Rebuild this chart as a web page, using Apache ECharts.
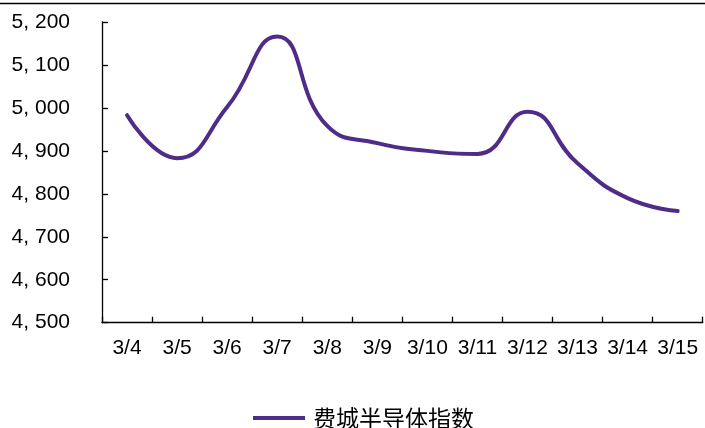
<!DOCTYPE html>
<html>
<head>
<meta charset="utf-8">
<script src="https://cdn.jsdelivr.net/npm/echarts@6/dist/echarts.min.js"></script>
<style>
  html, body { margin: 0; padding: 0; background: #fff; }
  #chart { width: 705px; height: 428px; }
</style>
</head>
<body>
<div id="chart"></div>
<script>
// Trading days (March)
const categories = ['3/4', '3/5', '3/6', '3/7', '3/8', '3/9', '3/10', '3/11', '3/12', '3/13', '3/14', '3/15'];
// Philadelphia Semiconductor Index closes
const soxValues = [4983, 4883, 5002, 5166, 4958, 4918, 4900, 4893, 4991, 4871, 4790, 4760];
// Value-axis tick labels, from 4,500 up to 5,200
const yTickValues = [4500, 4600, 4700, 4800, 4900, 5000, 5100, 5200];
const yTickLabels = ['4, 500', '4, 600', '4, 700', '4, 800', '4, 900', '5, 000', '5, 100', '5, 200'];
const seriesName = '费城半导体指数';

const LATIN = '"Liberation Sans", Arial, sans-serif';
const CJK = '"Noto Sans CJK SC", sans-serif';

const chart = echarts.init(document.getElementById('chart'), null, { renderer: 'canvas' });

chart.setOption({
  backgroundColor: '#ffffff',
  animation: false,
  grid: { left: 102, right: 2.3, top: 22, bottom: 105.3, containLabel: false },
  graphic: [{
    type: 'line',
    shape: { x1: 0, y1: 3.5, x2: 705, y2: 3.5 },
    style: { stroke: '#000', lineWidth: 1.5 }
  }],
  legend: {
    left: 253,
    top: 406.5,
    padding: 0,
    icon: 'rect',
    itemWidth: 52,
    itemHeight: 4,
    textStyle: { fontFamily: CJK, fontSize: 23, color: '#000', padding: [0, 0, 0, 3] },
    data: [seriesName]
  },
  xAxis: {
    type: 'category',
    data: categories,
    boundaryGap: true,
    axisLine: { lineStyle: { color: '#000', width: 1.3 } },
    axisTick: { show: true, inside: true, length: 6, alignWithLabel: false, lineStyle: { color: '#000', width: 1.3 } },
    axisLabel: { interval: 0, margin: 15, fontFamily: LATIN, fontSize: 21, color: '#000' },
    splitLine: { show: false }
  },
  yAxis: {
    type: 'value',
    min: 4500,
    max: 5200,
    interval: 100,
    axisLine: { show: true, lineStyle: { color: '#000', width: 1.3 } },
    axisTick: { show: true, inside: true, length: 6, lineStyle: { color: '#000', width: 1.3 } },
    axisLabel: {
      margin: 32,
      fontFamily: LATIN,
      fontSize: 21,
      color: '#000',
      formatter: function (v) {
        const i = yTickValues.indexOf(v);
        return i >= 0 ? yTickLabels[i] : '';
      }
    },
    splitLine: { show: false }
  },
  series: [{
    name: seriesName,
    type: 'line',
    data: soxValues,
    smooth: 0.5,
    symbol: 'none',
    lineStyle: { color: '#4E2C88', width: 4, cap: 'round' },
    itemStyle: { color: '#4E2C88' }
  }]
});
</script>
</body>
</html>
